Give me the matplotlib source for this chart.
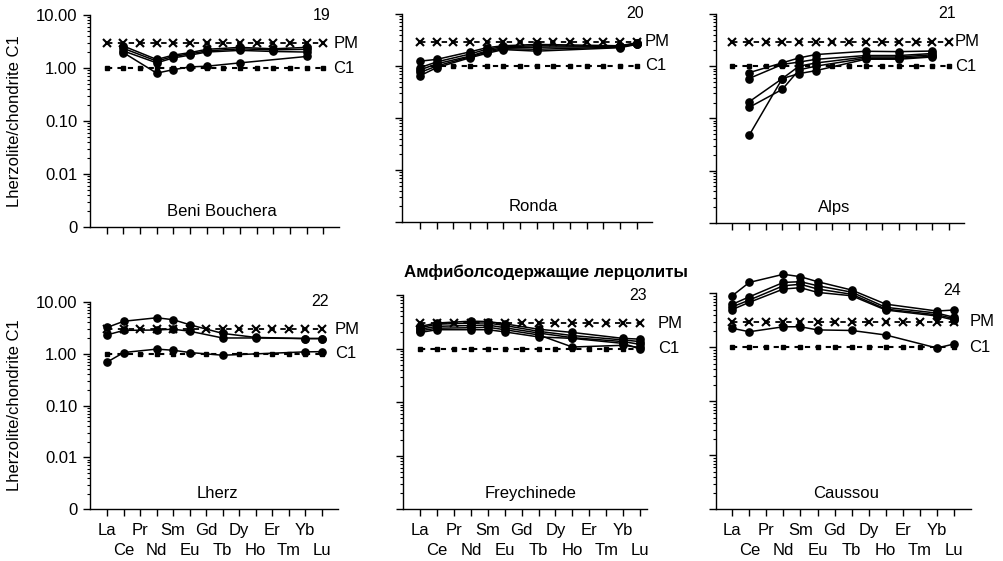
import numpy as np
import matplotlib
matplotlib.use("Agg")
import matplotlib.pyplot as plt
from matplotlib.ticker import FixedLocator, LogLocator, NullFormatter, FixedFormatter

plt.rcParams['font.family'] = ['Liberation Sans', 'DejaVu Sans']

# ---------------- data ----------------
elements = ["La", "Ce", "Pr", "Nd", "Sm", "Eu", "Gd", "Tb", "Dy", "Ho", "Er", "Tm", "Yb", "Lu"]
pm_level = 2.95   # primitive mantle / C1
c1_level = 1.0    # chondrite C1
nan = np.nan

#                 La    Ce   Pr   Nd    Sm    Eu    Gd   Tb   Dy    Ho   Er    Tm   Yb    Lu
beni_bouchera = [
    [nan, 2.60, nan, 1.45, 1.75, 1.95, 2.25, nan, 2.45, nan, 2.30, nan, 2.45, nan],
    [nan, 2.35, nan, 1.35, 1.65, 1.85, 2.10, nan, 2.30, nan, 2.20, nan, 2.25, nan],
    [nan, 2.10, nan, 1.25, 1.55, 1.75, 2.00, nan, 2.15, nan, 2.05, nan, 2.00, nan],
    [nan, 1.95, nan, 0.80, 0.93, 1.05, 1.08, nan, 1.25, nan, nan, nan, 1.65, nan],
]
ronda = [
    [1.24, 1.34, nan, 1.87, 2.25, 2.45, nan, 2.60, nan, nan, nan, nan, 2.45, 2.80],
    [0.93, 1.20, nan, 1.70, 2.10, 2.35, nan, 2.45, nan, nan, nan, nan, 2.40, 2.75],
    [0.84, 1.10, nan, 1.55, 1.95, 2.25, nan, 2.30, nan, nan, nan, nan, 2.35, 2.70],
    [0.75, 1.00, nan, 1.50, 1.85, 2.15, nan, 2.10, nan, nan, nan, nan, 2.30, 2.65],
    [0.65, 0.93, nan, 1.44, 1.75, 2.07, nan, 1.93, nan, nan, nan, nan, 2.25, 2.60],
]
alps = [
    [nan, 0.750, nan, 1.16, 1.44, 1.67, nan, nan, 1.93, nan, 1.90, nan, 1.95, nan],
    [nan, 0.580, nan, 1.08, 1.20, 1.35, nan, nan, 1.60, nan, 1.60, nan, 1.75, nan],
    [nan, 0.207, nan, 0.58, 1.00, 1.15, nan, nan, 1.50, nan, 1.50, nan, 1.65, nan],
    [nan, 0.162, nan, 0.36, 0.85, 1.00, nan, nan, 1.42, nan, 1.42, nan, 1.55, nan],
    [nan, 0.047, nan, 0.58, 0.72, 0.82, nan, nan, 1.36, nan, 1.36, nan, 1.50, nan],
]
lherz = [
    [3.20, 4.20, nan, 4.90, 4.50, 3.60, nan, 2.45, nan, 2.05, nan, nan, 1.95, 1.95],
    [2.30, 2.80, nan, 2.85, 2.95, 2.70, nan, 2.00, nan, 2.00, nan, nan, 1.95, 1.95],
    [0.69, 1.05, nan, 1.22, 1.16, 1.05, nan, 0.93, nan, nan, nan, nan, 1.08, 1.09],
]
freychinede = [
    [2.60, 3.00, nan, 3.25, 3.20, 2.90, nan, 2.30, nan, 2.00, nan, nan, 1.55, 1.50],
    [2.45, 2.85, nan, 3.00, 3.00, 2.70, nan, 2.10, nan, 1.75, nan, nan, 1.45, 1.35],
    [2.30, 2.60, nan, 2.70, 2.75, 2.45, nan, 1.95, nan, 1.60, nan, nan, 1.35, 1.20],
    [2.15, 2.40, nan, 2.45, 2.50, 2.25, nan, 1.80, nan, 1.07, nan, nan, 1.15, 1.05],
    [2.00, 2.25, nan, 2.25, 2.25, 2.05, nan, 1.65, nan, 1.55, nan, nan, 1.25, 0.98],
]
caussou = [
    [9.00, 15.9, nan, 22.5, 20.3, 16.4, nan, 11.5, nan, 6.30, nan, nan, 4.70, 4.90],
    [6.25, 8.60, nan, 15.9, 16.4, 13.8, nan, 10.5, nan, 5.50, nan, nan, 4.30, 3.60],
    [5.60, 7.50, nan, 13.8, 14.7, 12.0, nan, 9.60, nan, 5.10, nan, nan, 4.00, 3.40],
    [5.00, 6.80, nan, 12.0, 12.7, 10.4, nan, 9.00, nan, 4.90, nan, nan, 3.80, 3.20],
    [2.25, 1.94, nan, 2.40, 2.40, 2.10, nan, 2.05, nan, 1.69, nan, nan, 0.97, 1.15],
]

panel_names = ["Beni Bouchera", "Ronda", "Alps", "Lherz", "Freychinede", "Caussou"]
panel_numbers = ["19", "20", "21", "22", "23", "24"]
panel_data = [beni_bouchera, ronda, alps, lherz, freychinede, caussou]

y_ticks = [1e-3, 1e-2, 1e-1, 1.0, 10.0]
y_ticklabels = ["0", "0.01", "0.10", "1.00", "10.00"]
ylabel = "Lherzolite/chondrite C1"
group_title = "Амфиболсодержащие лерцолиты"

# ---------------- layout (pixels) ----------------
W, H = 1004, 561
# left, right, top, bottom of each axes in pixels
rects = [
    (90, 339, 15, 227),
    (401.7, 651.7, 14, 222),
    (715.7, 964, 14, 222.7),
    (90, 338, 301.7, 509.3),
    (403.3, 646.7, 295, 509.3),
    (715.7, 970.7, 293.3, 509.3),
]
xlims = [(-1.0, 13.94), (-1.1, 13.9), (-1.0, 13.9), (-1.05, 14.0), (-1.0, 13.4), (-0.97, 13.98)]
label_x = [13.6, 13.5, 13.36, 13.8, 14.07, 13.9]
name_x = [6.9, 6.8, 6.1, 6.7, 6.55, 6.7]
number_y = [10, 10, 10, 10, 10, 11.5]

fig = plt.figure(figsize=(W / 100, H / 100), dpi=100)
x = np.arange(len(elements))
x_even = x[0::2]
x_odd = x[1::2]

for i in range(6):
    l, r, t, b = rects[i]
    ax = fig.add_axes([l / W, 1 - b / H, (r - l) / W, (b - t) / H])
    ax.set_yscale('log')
    ax.set_ylim(1e-3, 10)
    ax.set_xlim(*xlims[i])
    for s in ('top', 'right'):
        ax.spines[s].set_visible(False)
    for s in ('left', 'bottom'):
        ax.spines[s].set_linewidth(1.0)

    # reference lines
    ax.plot(x, np.full(len(x), pm_level), color='black', lw=1.3, ls=(0, (3, 3)),
            marker='x', ms=5.5, mew=1.5, zorder=2, clip_on=False)
    ax.plot(x, np.full(len(x), c1_level), color='black', lw=1.5, ls=(0, (2.5, 2.5)),
            marker='s', ms=3, zorder=2, clip_on=False)

    # samples
    for series in panel_data[i]:
        arr = np.array(series, dtype=float)
        m = ~np.isnan(arr)
        ax.plot(x[m], arr[m], color='black', lw=1.1, marker='o', ms=5.2,
                zorder=3, clip_on=False)

    # y ticks
    ax.yaxis.set_major_locator(FixedLocator(y_ticks))
    ax.yaxis.set_minor_locator(LogLocator(base=10, subs=np.arange(2, 10)))
    ax.yaxis.set_minor_formatter(NullFormatter())
    ax.tick_params(axis='y', which='major', direction='out', length=5, width=1.0, pad=4, labelsize=12)
    ax.tick_params(axis='y', which='minor', direction='out', length=2.5, width=0.8)
    if i in (0, 3):
        ax.yaxis.set_major_formatter(FixedFormatter(y_ticklabels))
    else:
        ax.yaxis.set_major_formatter(NullFormatter())

    # x ticks: even elements on first row (major), odd on second row (minor)
    ax.xaxis.set_major_locator(FixedLocator(x_even))
    ax.xaxis.set_minor_locator(FixedLocator(x_odd))
    ax.tick_params(axis='x', which='major', direction='out', length=5, width=1.0, pad=5, labelsize=12)
    ax.tick_params(axis='x', which='minor', direction='out', length=5, width=1.0, pad=19, labelsize=12)
    if i >= 3:
        ax.xaxis.set_major_formatter(FixedFormatter(elements[0::2]))
        ax.xaxis.set_minor_formatter(FixedFormatter(elements[1::2]))
    else:
        ax.xaxis.set_major_formatter(NullFormatter())
        ax.xaxis.set_minor_formatter(NullFormatter())

    # texts
    ax.text(label_x[i], pm_level, "PM", fontsize=12, va='center', ha='left', clip_on=False)
    ax.text(label_x[i], c1_level, "C1", fontsize=12, va='center', ha='left', clip_on=False)
    ax.text(12.9, number_y[i], panel_numbers[i], fontsize=11.5, va='center', ha='center', clip_on=False)
    ax.text(name_x[i], 10 ** (-3 + 4 * 0.075), panel_names[i], fontsize=12, va='center', ha='center')

fig.text(15 / W, 1 - 121 / H, ylabel, rotation=90, fontsize=12, ha='center', va='center')
fig.text(15 / W, 1 - 405.5 / H, ylabel, rotation=90, fontsize=12, ha='center', va='center')
fig.text(546 / W, 1 - 272 / H, group_title, fontsize=12.2, fontweight='bold', ha='center', va='center')

fig.savefig("out.png", dpi=100)
